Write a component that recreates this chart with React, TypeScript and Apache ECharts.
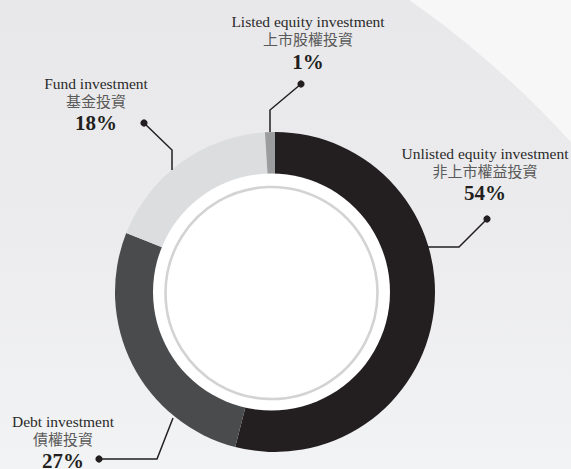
import React, { useEffect, useRef } from "react";
import * as echarts from "echarts";

// ---- data ----
const categoriesEn = [
  "Unlisted equity investment",
  "Debt investment",
  "Fund investment",
  "Listed equity investment",
];
const categoriesZh = ["非上市權益投資", "債權投資", "基金投資", "上市股權投資"];
const shares = [54, 27, 18, 1];

// ---- styles / layout ----
const sliceColors = ["#231f20", "#4a4b4d", "#dcdddf", "#9b9c9e"];
const labelAnchors = [
  { x: 485, y: 144.5 },
  { x: 63, y: 412.5 },
  { x: 96, y: 74.5 },
  { x: 308, y: 13 },
];
const leaderLines = [
  [[428, 247], [459, 247], [487, 219]],
  [[173, 418], [157, 459], [99, 459]],
  [[172, 170], [172, 150], [144, 123]],
  [[270, 132], [270, 110], [301, 84]],
];

export default function App() {
  const ref = useRef<HTMLDivElement>(null);

  useEffect(() => {
    if (!ref.current) return;
    const chart = echarts.init(ref.current, null, { renderer: "svg" });

    const lineGraphics: any[] = [];
    leaderLines.forEach((pts) => {
      lineGraphics.push({
        type: "polyline",
        z: 50,
        shape: { points: pts },
        style: { stroke: "#231f20", lineWidth: 1.5, fill: null },
        silent: true,
      });
      const end = pts[pts.length - 1];
      lineGraphics.push({
        type: "circle",
        z: 51,
        shape: { cx: end[0], cy: end[1], r: 3.6 },
        style: { fill: "#231f20" },
        silent: true,
      });
    });

    chart.setOption({
      animation: false,
      backgroundColor: "#f7f7f8",
      graphic: {
        elements: [
          {
            type: "circle",
            z: -10,
            shape: { cx: -150, cy: 800, r: 976 },
            style: {
              fill: {
                type: "linear",
                x: 0,
                y: 0,
                x2: 0,
                y2: 469,
                global: true,
                colorStops: [
                  { offset: 0, color: "#e8e8ea" },
                  { offset: 0.5, color: "#ececee" },
                  { offset: 1, color: "#f2f3f4" },
                ],
              },
            },
            silent: true,
          },
          {
            type: "circle",
            z: 100,
            shape: { cx: 271.5, cy: 292, r: 118.5 },
            style: { fill: "#ffffff" },
            silent: true,
          },
          {
            type: "circle",
            z: 101,
            shape: { cx: 271.5, cy: 293, r: 106 },
            style: { fill: null, stroke: "#d3d3d5", lineWidth: 2.6 },
            silent: true,
          },
          ...lineGraphics,
        ],
      },
      series: [
        {
          type: "pie",
          center: [275, 292],
          radius: [0, 160],
          startAngle: 90,
          clockwise: true,
          silent: true,
          avoidLabelOverlap: false,
          emphasis: { disabled: true },
          itemStyle: { borderWidth: 0 },
          labelLine: { show: false },
          label: {
            show: true,
            position: "outside",
            align: "center",
            formatter: (p: any) =>
              `{en|${categoriesEn[p.dataIndex]}}\n{zh|${categoriesZh[p.dataIndex]}}\n{pct|${p.value}%}`,
            rich: {
              en: {
                fontFamily: "Liberation Serif",
                fontSize: 15.5,
                color: "#2a2a2a",
                lineHeight: 17,
                align: "center",
              },
              zh: {
                fontFamily: "Noto Sans CJK TC",
                fontSize: 15,
                color: "#5a5a5a",
                lineHeight: 17,
                align: "center",
              },
              pct: {
                fontFamily: "Liberation Serif",
                fontSize: 21,
                fontWeight: "bold",
                color: "#231f20",
                lineHeight: 29,
                align: "center",
              },
            },
          },
          labelLayout: (params: any) => {
            const a = labelAnchors[params.dataIndex];
            return { x: a.x, y: a.y, align: "center", verticalAlign: "top" };
          },
          data: categoriesEn.map((name, i) => ({
            name,
            value: shares[i],
            itemStyle: { color: sliceColors[i] },
          })),
        },
      ],
    });

    return () => chart.dispose();
  }, []);

  return (
    <div
      ref={ref}
      style={{ position: "fixed", left: 0, top: 0, width: 571, height: 469 }}
    />
  );
}
